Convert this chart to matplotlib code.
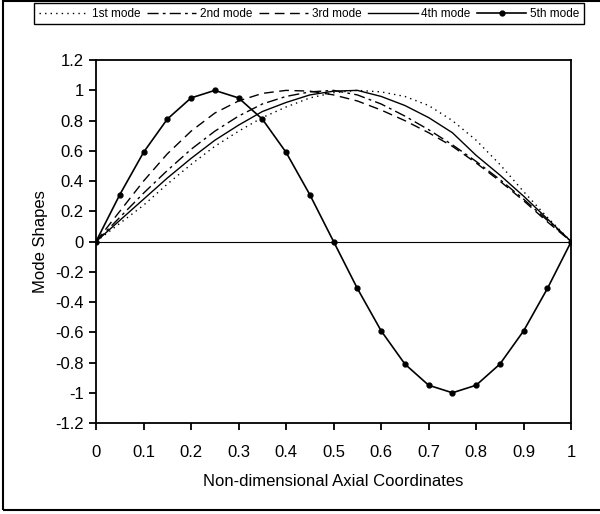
import numpy as np
import matplotlib.pyplot as plt
from matplotlib.patches import Rectangle

plt.rcParams['font.family'] = ['Liberation Sans', 'DejaVu Sans']

# axial coordinate (step 0.05)
x = [0, 0.05, 0.1, 0.15, 0.2, 0.25, 0.3, 0.35, 0.4, 0.45, 0.5,
     0.55, 0.6, 0.65, 0.7, 0.75, 0.8, 0.85, 0.9, 0.95, 1.0]

mode1 = [0, 0.12, 0.24, 0.38, 0.51, 0.63, 0.73, 0.82, 0.89, 0.95, 0.985,
         1.0, 0.99, 0.96, 0.90, 0.80, 0.67, 0.51, 0.33, 0.16, 0]
mode2 = [0, 0.16, 0.32, 0.47, 0.61, 0.73, 0.83, 0.91, 0.96, 0.99, 1.0,
         0.97, 0.91, 0.83, 0.74, 0.64, 0.53, 0.41, 0.28, 0.14, 0]
mode3 = [0, 0.20, 0.40, 0.58, 0.73, 0.85, 0.93, 0.98, 1.0, 0.995, 0.97,
         0.93, 0.87, 0.80, 0.72, 0.63, 0.52, 0.40, 0.27, 0.13, 0]
mode4 = [0, 0.14, 0.28, 0.42, 0.55, 0.67, 0.77, 0.86, 0.92, 0.97, 0.995,
         1.0, 0.96, 0.90, 0.82, 0.72, 0.57, 0.44, 0.30, 0.15, 0]
mode5 = [0, 0.31, 0.59, 0.81, 0.95, 1.0, 0.95, 0.81, 0.59, 0.31, 0,
         -0.31, -0.59, -0.81, -0.95, -1.0, -0.95, -0.81, -0.59, -0.31, 0]

labels = ['1st mode', '2nd mode', '3rd mode', '4th mode', '5th mode']
xticks = [0, 0.1, 0.2, 0.3, 0.4, 0.5, 0.6, 0.7, 0.8, 0.9, 1]
yticks = [-1.2, -1, -0.8, -0.6, -0.4, -0.2, 0, 0.2, 0.4, 0.6, 0.8, 1, 1.2]

fig = plt.figure(figsize=(6, 5.14), dpi=100)
ax = fig.add_axes([0.16, 0.177, 0.792, 0.706])

ax.plot(x, mode1, color='black', lw=1, linestyle=(0, (1, 3)), label=labels[0])
ax.plot(x, mode2, color='black', lw=1, linestyle=(0, (8, 3, 2, 3)), label=labels[1])
ax.plot(x, mode3, color='black', lw=1, linestyle=(0, (7, 4)), label=labels[2])
ax.plot(x, mode4, color='black', lw=1, linestyle='-', label=labels[3])
ax.plot(x, mode5, color='black', lw=1.2, marker='o', markersize=3.5, label=labels[4])
ax.axhline(0, color='black', lw=0.8)

ax.set_xlim(0, 1)
ax.set_ylim(-1.2, 1.2)
ax.set_xticks(xticks)
ax.set_xticklabels([f'{t:g}' for t in xticks])
ax.set_yticks(yticks)
ax.set_yticklabels([f'{t:g}' for t in yticks])
ax.tick_params(direction='out', length=5, width=1.3, labelsize=12)
ax.tick_params(axis='x', pad=11)
ax.tick_params(axis='y', pad=4)
for s in ax.spines.values():
    s.set_linewidth(1.3)

ax.set_xlabel('Non-dimensional Axial Coordinates', fontsize=12, labelpad=10)
ax.set_ylabel('Mode Shapes', fontsize=12, labelpad=5)

fig.legend(loc='upper left', bbox_to_anchor=(34/600, 1 - 24/514, 550/600, 21/514),
           mode='expand', ncol=5, fontsize=8.5, handlelength=4.2,
           handletextpad=0.3, columnspacing=0.4, fancybox=False,
           edgecolor='black', framealpha=1, borderaxespad=0)

# outer frame
fig.patches.append(Rectangle((3/600, 4/514), 1.0, 1 - 5/514, transform=fig.transFigure,
                             fill=False, edgecolor='black', lw=1.5))

fig.savefig('out.png', dpi=100)
